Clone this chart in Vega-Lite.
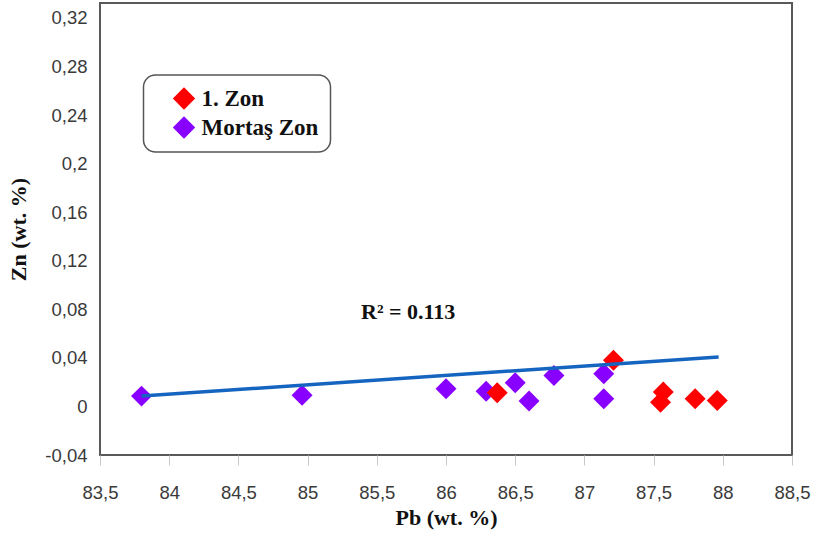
{
  "$schema": "https://vega.github.io/schema/vega-lite/v6.json",
  "width": 692,
  "height": 452,
  "autosize": {"type": "none"},
  "padding": {"left": 100, "top": 3, "right": 25, "bottom": 85},
  "background": "white",
  "config": {
    "view": {"stroke": "#595959", "strokeWidth": 2},
    "font": "Liberation Sans",
    "legend": {"strokeWidth": 1.5}
  },
  "datasets": {
    "points": [
      {"zone": "Mortaş Zon", "pb": 83.80, "zn": 0.0085},
      {"zone": "Mortaş Zon", "pb": 84.96, "zn": 0.0093},
      {"zone": "Mortaş Zon", "pb": 86.00, "zn": 0.0145},
      {"zone": "Mortaş Zon", "pb": 86.29, "zn": 0.0126},
      {"zone": "Mortaş Zon", "pb": 86.50, "zn": 0.0195},
      {"zone": "Mortaş Zon", "pb": 86.60, "zn": 0.0044},
      {"zone": "Mortaş Zon", "pb": 86.78, "zn": 0.0255},
      {"zone": "Mortaş Zon", "pb": 87.14, "zn": 0.0269},
      {"zone": "Mortaş Zon", "pb": 87.14, "zn": 0.0063},
      {"zone": "1. Zon", "pb": 86.37, "zn": 0.0113},
      {"zone": "1. Zon", "pb": 87.21, "zn": 0.0380},
      {"zone": "1. Zon", "pb": 87.57, "zn": 0.0118},
      {"zone": "1. Zon", "pb": 87.55, "zn": 0.0035},
      {"zone": "1. Zon", "pb": 87.80, "zn": 0.0063},
      {"zone": "1. Zon", "pb": 87.96, "zn": 0.0049}
    ],
    "trend": [
      {"pb": 83.80, "zn": 0.0085},
      {"pb": 87.97, "zn": 0.0408}
    ],
    "annotation": [
      {"pb": 85.727, "zn": 0.072, "label": "R² = 0.113"}
    ]
  },
  "layer": [
    {
      "data": {"name": "points"},
      "mark": {"type": "point", "shape": "diamond", "filled": true, "size": 440, "opacity": 1, "strokeWidth": 0},
      "encoding": {
        "x": {
          "field": "pb", "type": "quantitative", "title": "Pb (wt. %)",
          "scale": {"domain": [83.5, 88.5], "nice": false, "zero": false},
          "axis": {
            "values": [83.5, 84, 84.5, 85, 85.5, 86, 86.5, 87, 87.5, 88, 88.5],
            "labelExpr": "replace(toString(datum.value), '.', ',')",
            "labelFont": "Liberation Sans", "labelFontSize": 18.5, "labelColor": "#3a3a3a",
            "labelFlush": false, "labelOverlap": false,
            "labelPadding": 18,
            "domain": false, "grid": false,
            "tickColor": "#c8c8c8", "tickSize": 10, "tickWidth": 1,
            "titleFont": "Liberation Serif", "titleFontWeight": "bold", "titleFontSize": 22, "titleColor": "#111111",
            "titlePadding": 6
          }
        },
        "y": {
          "field": "zn", "type": "quantitative", "title": "Zn (wt. %)",
          "scale": {"domain": [-0.04, 0.3323], "nice": false, "zero": false},
          "axis": {
            "values": [-0.04, -0.02, 0, 0.02, 0.04, 0.06, 0.08, 0.1, 0.12, 0.14, 0.16, 0.18, 0.2, 0.22, 0.24, 0.26, 0.28, 0.3, 0.32],
            "labelExpr": "round(datum.value*100) % 4 == 0 ? replace(toString(datum.value), '.', ',') : ''",
            "labelFont": "Liberation Sans", "labelFontSize": 18.5, "labelColor": "#3a3a3a",
            "labelFlush": false, "labelOverlap": false,
            "labelPadding": 19,
            "domain": false, "grid": false,
            "tickColor": "#999999", "tickSize": -6, "tickWidth": 1,
            "tickOpacity": {"condition": {"test": "round(datum.value*100) % 4 != 0", "value": 1}, "value": 0},
            "titleFont": "Liberation Serif", "titleFontWeight": "bold", "titleFontSize": 22, "titleColor": "#111111",
            "titlePadding": 14
          }
        },
        "color": {
          "field": "zone", "type": "nominal",
          "scale": {"domain": ["1. Zon", "Mortaş Zon"], "range": ["#ff0000", "#8800ff"]},
          "legend": {
            "orient": "none", "legendX": 43.5, "legendY": 72,
            "title": null,
            "strokeColor": "#555555", "fillColor": "white",
            "cornerRadius": 12, "padding": 12,
            "symbolType": "diamond", "symbolSize": 500, "symbolOffset": 17,
            "symbolStrokeWidth": 0,
            "labelFont": "Liberation Serif", "labelFontWeight": "bold", "labelFontSize": 23,
            "labelColor": "#111111", "labelOffset": 6, "rowPadding": 5
          }
        }
      }
    },
    {
      "data": {"name": "trend"},
      "mark": {"type": "line", "color": "#1565c0", "strokeWidth": 3.5},
      "encoding": {
        "x": {"field": "pb", "type": "quantitative", "title": "Pb (wt. %)"},
        "y": {"field": "zn", "type": "quantitative", "title": "Zn (wt. %)"}
      }
    },
    {
      "data": {"name": "annotation"},
      "mark": {"type": "text", "font": "Liberation Serif", "fontWeight": "bold", "fontSize": 22, "baseline": "alphabetic", "align": "center", "color": "#111111"},
      "encoding": {
        "x": {"field": "pb", "type": "quantitative", "title": "Pb (wt. %)"},
        "y": {"field": "zn", "type": "quantitative", "title": "Zn (wt. %)"},
        "text": {"field": "label", "type": "nominal"}
      }
    }
  ]
}
